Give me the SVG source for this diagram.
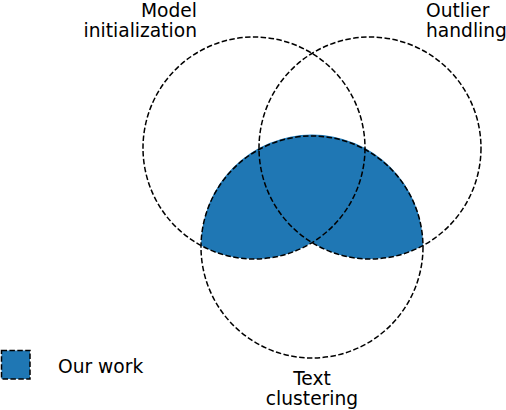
<svg xmlns="http://www.w3.org/2000/svg" width="506" height="410" viewBox="0 0 506 410">
<style>
.c{fill:none;stroke:#000;stroke-width:1.5;stroke-dasharray:5.5,2.4}
.t{font-family:"DejaVu Sans",sans-serif;font-size:18.67px;fill:#000}
</style>
<rect width="506" height="410" fill="#fff"/>
<g id="our-work-region">
<path d="M201,245.5 A111,111 0 0 1 423,245.5 A111,111 0 0 1 312,242.6 A111,111 0 0 1 201,245.5 Z" fill="#1f77b4"/>
</g>
<g id="model-initialization">
<circle class="c" cx="254" cy="148" r="111"/>
<text class="t" x="197" y="17" text-anchor="end">Model</text>
<text class="t" x="197" y="37" text-anchor="end">initialization</text>
</g>
<g id="outlier-handling">
<circle class="c" cx="370" cy="148" r="111"/>
<text class="t" x="426" y="17">Outlier</text>
<text class="t" x="426" y="37">handling</text>
</g>
<g id="text-clustering">
<circle class="c" cx="312" cy="247" r="111"/>
<text class="t" x="312" y="385" text-anchor="middle">Text</text>
<text class="t" x="312" y="405" text-anchor="middle">clustering</text>
</g>
<g id="legend">
<rect class="c" x="1.5" y="350.5" width="28.5" height="28.5" style="fill:#1f77b4"/>
<text class="t" x="58" y="373">Our work</text>
</g>
<g id="connectors"/>
</svg>
